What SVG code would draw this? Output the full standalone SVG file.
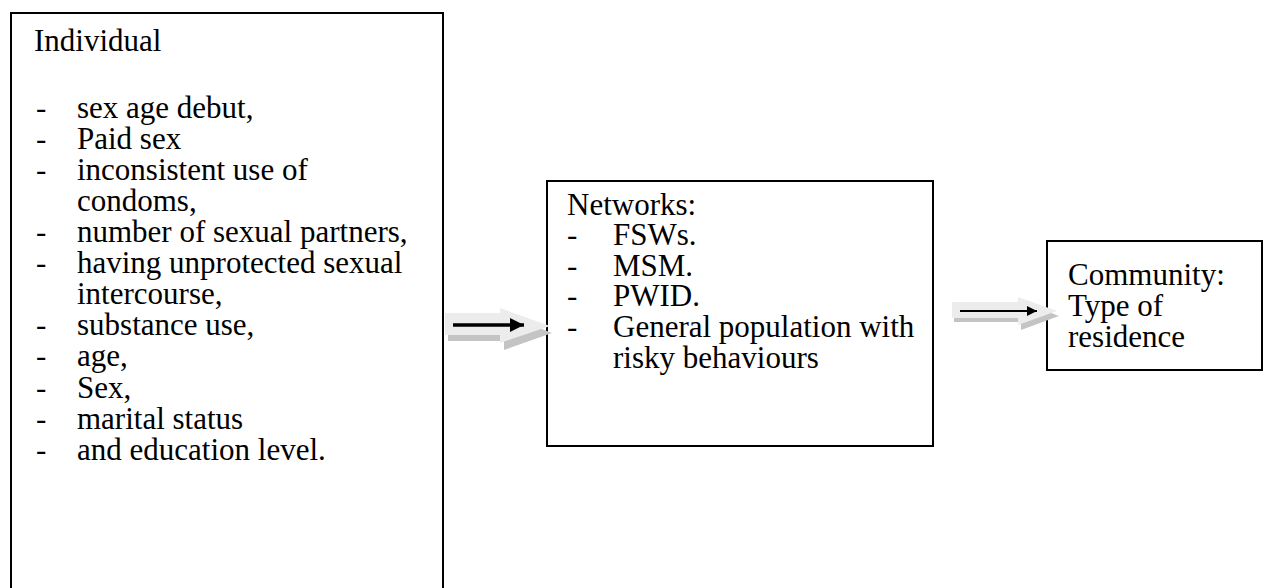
<svg xmlns="http://www.w3.org/2000/svg" width="1266" height="588" viewBox="0 0 1266 588">
<defs>
<style>
.box{fill:#fff;stroke:#000;stroke-width:2}
text{font-family:"Liberation Serif","Times New Roman",serif;font-size:31px;fill:#000}
.sh{fill:#c4c4c4}
.blk{fill:#ececec}
.ln{stroke:#000;fill:none}
</style>
<marker id="ah" viewBox="0 0 10 10" refX="10" refY="5" markerWidth="5" markerHeight="4" orient="auto" markerUnits="strokeWidth"><path d="M0,0 L10,5 L0,10 z" fill="#000"/></marker>
<marker id="ah2" viewBox="0 0 10 10" refX="10" refY="5" markerWidth="7" markerHeight="5" orient="auto" markerUnits="strokeWidth"><path d="M0,0 L10,5 L0,10 z" fill="#000"/></marker>
</defs>
<g id="individual">
<rect class="box" x="11" y="13" width="432" height="590"/>
<text x="34" y="51">Individual</text>
<g>
<text x="36" y="118">-</text><text x="77" y="118">sex age debut,</text>
<text x="36" y="149">-</text><text x="77" y="149">Paid sex</text>
<text x="36" y="180">-</text><text x="77" y="180">inconsistent use of</text>
<text x="77" y="211">condoms,</text>
<text x="36" y="242">-</text><text x="77" y="242">number of sexual partners,</text>
<text x="36" y="273">-</text><text x="77" y="273">having unprotected sexual</text>
<text x="77" y="304">intercourse,</text>
<text x="36" y="335">-</text><text x="77" y="335">substance use,</text>
<text x="36" y="366">-</text><text x="77" y="366">age,</text>
<text x="36" y="398">-</text><text x="77" y="398">Sex,</text>
<text x="36" y="429">-</text><text x="77" y="429">marital status</text>
<text x="36" y="460">-</text><text x="77" y="460">and education level.</text>
</g>
</g>
<g id="networks">
<rect class="box" x="547" y="181" width="386" height="265"/>
<text x="567" y="215">Networks:</text>
<text x="567" y="245">-</text><text x="613" y="245">FSWs.</text>
<text x="567" y="276">-</text><text x="613" y="276">MSM.</text>
<text x="567" y="306">-</text><text x="613" y="306">PWID.</text>
<text x="567" y="337">-</text><text x="613" y="337">General population with</text>
<text x="613" y="368">risky behaviours</text>
</g>
<g id="community">
<rect class="box" x="1047" y="241" width="215" height="129"/>
<text x="1068" y="285">Community:</text>
<text x="1068" y="316">Type of</text>
<text x="1068" y="347">residence</text>
</g>
<g id="connectors">
<path class="sh" d="M448,319 H504 V314 L552,333 L504,350 V341 H448 z"/>
<path class="blk" d="M445,313 H500 V308 L550,326 L500,343 V335 H445 z"/>
<line class="ln" x1="453" y1="325" x2="524" y2="325" stroke-width="3.5" marker-end="url(#ah)"/>
<path class="sh" d="M954,306 H1021 V301 L1059,316 L1021,330 V322 H954 z"/>
<path class="blk" d="M952,302 H1018 V297 L1057,311 L1018,325 V318 H952 z"/>
<line class="ln" x1="960" y1="311" x2="1037" y2="311" stroke-width="2" marker-end="url(#ah2)"/>
</g>
</svg>
